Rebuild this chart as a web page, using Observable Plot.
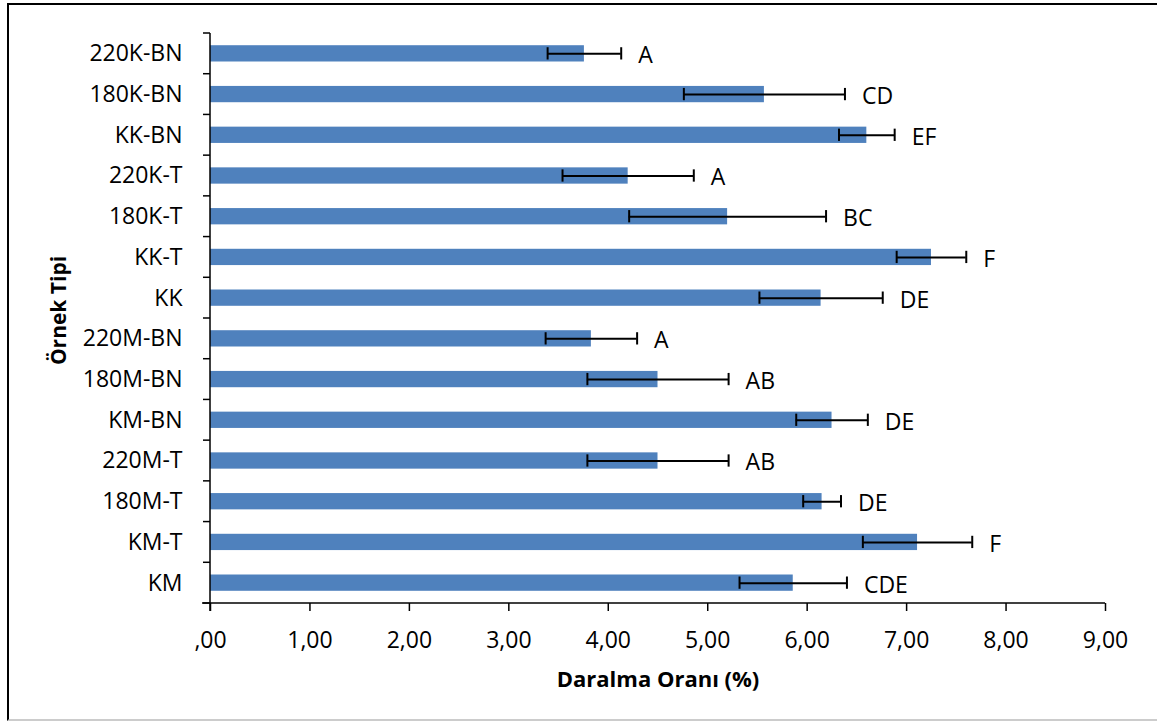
<!DOCTYPE html>
<html><head><meta charset="utf-8">
<script src="https://cdn.jsdelivr.net/npm/d3@7"></script>
<script src="https://cdn.jsdelivr.net/npm/@observablehq/plot@0.6"></script>
<style>
html,body{margin:0;padding:0;background:#fff;}
#wrap{position:relative;width:1157px;height:722px;overflow:hidden;}
#chart{position:absolute;left:0;top:0;}
#frame{position:absolute;left:7px;top:3px;width:1160px;height:714px;border-left:2px solid #000;border-top:2px solid #000;border-bottom:2px solid #ccc;pointer-events:none;}
</style></head><body>
<div id="wrap"><div id="chart"></div><div id="frame"></div></div>
<script>
const categories = ["220K-BN","180K-BN","KK-BN","220K-T","180K-T","KK-T","KK","220M-BN","180M-BN","KM-BN","220M-T","180M-T","KM-T","KM"];
const means  = [3.76, 5.57, 6.60, 4.20, 5.20, 7.25, 6.14, 3.83, 4.50, 6.25, 4.50, 6.15, 7.11, 5.86];
const errors = [0.37, 0.81, 0.28, 0.66, 0.99, 0.35, 0.62, 0.46, 0.71, 0.36, 0.71, 0.19, 0.55, 0.54];
const groups = ["A","CD","EF","A","BC","F","DE","A","AB","DE","AB","DE","F","CDE"];
const xTicks = [0,1,2,3,4,5,6,7,8,9];
const xTickLabels = [",00","1,00","2,00","3,00","4,00","5,00","6,00","7,00","8,00","9,00"];
const xTitle = "Daralma Oranı (%)";
const yTitle = "Örnek Tipi";

const data = categories.map((c, i) => ({
  cat: c, mean: means[i], lo: means[i] - errors[i], hi: means[i] + errors[i], group: groups[i]
}));

const font = "'Open Sans', sans-serif";
const fmt = d => xTickLabels[xTicks.indexOf(d)];

const chart = Plot.plot({
  width: 1157, height: 722,
  marginLeft: 210, marginRight: 52, marginTop: 33, marginBottom: 119,
  style: {fontFamily: font, fontSize: "23px", color: "#000", background: "transparent"},
  x: {domain: [0, 9], label: null},
  y: {domain: categories, paddingInner: 0.6, paddingOuter: 0.3, round: false, label: null},
  marks: [
    Plot.barX(data, {x: "mean", y: "cat", fill: "#4F81BD"}),
    Plot.ruleY(data, {y: "cat", x1: "lo", x2: "hi", stroke: "#000", strokeWidth: 2}),
    Plot.tickX(data, {x: "lo", y: "cat", stroke: "#000", strokeWidth: 2, insetTop: 2, insetBottom: 2}),
    Plot.tickX(data, {x: "hi", y: "cat", stroke: "#000", strokeWidth: 2, insetTop: 2, insetBottom: 2}),
    Plot.text(data, {x: "hi", y: "cat", text: "group", textAnchor: "start", dx: 17, dy: 2, fontSize: 23, fill: "#000"}),
    Plot.axisX({ticks: xTicks, tickFormat: fmt, tickSize: 8, tickPadding: 20, fontSize: 23, strokeWidth: 1.5, label: null}),
    Plot.axisY({tickSize: 0, tickPadding: 28, fontSize: 23, label: null}),
    Plot.text([xTitle], {text: d => d, frameAnchor: "bottom", textAnchor: "middle", lineAnchor: "middle", dy: 76, fontWeight: "bold", fontSize: 22, fill: "#000"}),
    Plot.text([yTitle], {text: d => d, frameAnchor: "left", textAnchor: "middle", lineAnchor: "middle", dx: -151, dy: -8, rotate: -90, fontWeight: "bold", fontSize: 21, fill: "#000"})
  ]
});
document.getElementById("chart").appendChild(chart);

// axis lines and category boundary ticks, placed from the chart's own scales
const xs = chart.scale("x"), ys = chart.scale("y");
const x0 = xs.apply(0), x9 = xs.apply(9);
const [r0, r1] = ys.range;
const n = categories.length;
const step = (r1 - r0) / n;
const g = d3.select(chart).append("g").attr("stroke", "#000").attr("stroke-width", 1.5).attr("fill", "none");
g.append("line").attr("x1", x0).attr("x2", x0).attr("y1", r0).attr("y2", r1 + 8);
g.append("line").attr("x1", x0 - 8).attr("x2", x9).attr("y1", r1).attr("y2", r1);
for (let i = 0; i <= n; i++) {
  const y = r0 + i * step;
  g.append("line").attr("x1", x0 - 7).attr("x2", x0).attr("y1", y).attr("y2", y);
}
</script>
</body></html>
